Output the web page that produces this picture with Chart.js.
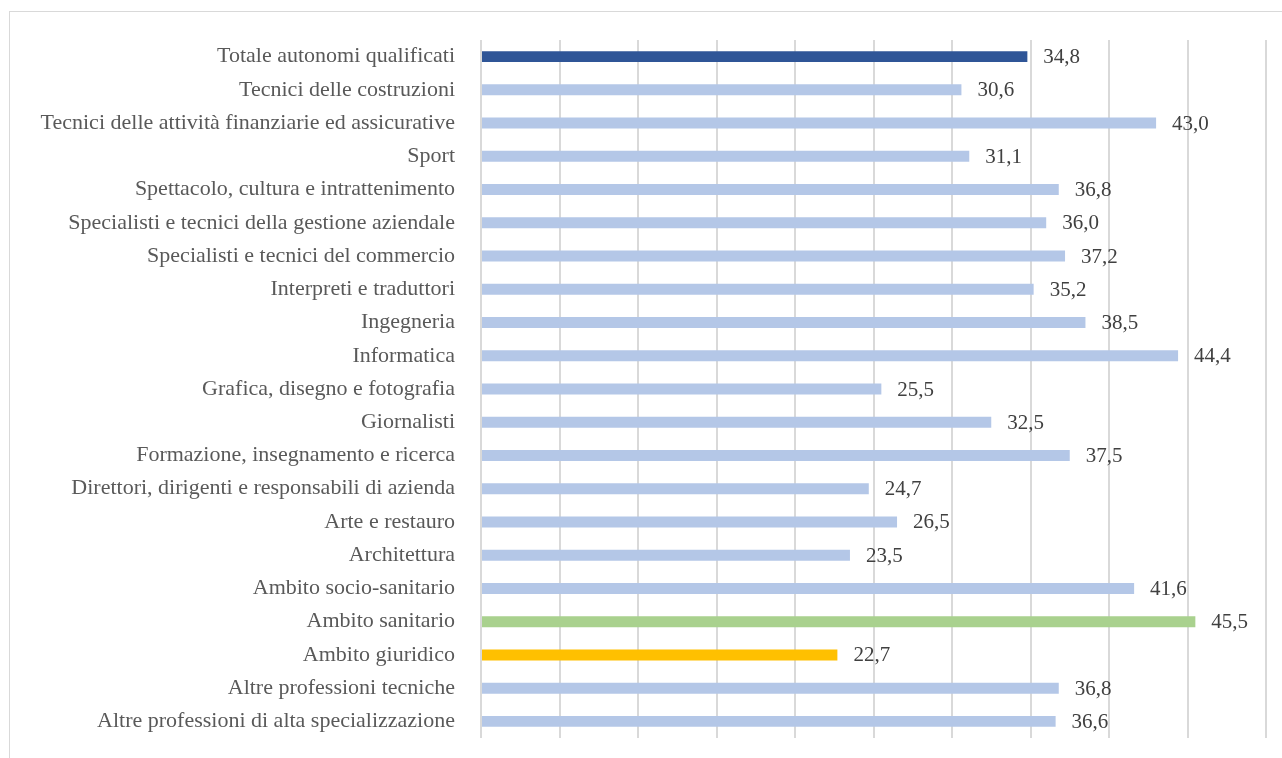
<!DOCTYPE html>
<html>
<head>
<meta charset="utf-8">
<script src="https://cdn.jsdelivr.net/npm/chart.js@4"></script>
<style>
html,body{margin:0;padding:0;background:#fff;overflow:hidden}
#frame{position:absolute;left:9px;top:11px;width:1300px;height:780px;border:1px solid #d9d9d9}
#wrap{position:absolute;left:0;top:0;width:1282px;height:758px}
</style>
</head>
<body>
<div id="frame"></div>
<div id="wrap"><canvas id="c"></canvas></div>
<script>

const categories = [
"Totale autonomi qualificati",
"Tecnici delle costruzioni",
"Tecnici delle attività finanziarie ed assicurative",
"Sport",
"Spettacolo, cultura e intrattenimento",
"Specialisti e tecnici della gestione aziendale",
"Specialisti e tecnici del commercio",
"Interpreti e traduttori",
"Ingegneria",
"Informatica",
"Grafica, disegno e fotografia",
"Giornalisti",
"Formazione, insegnamento e ricerca",
"Direttori, dirigenti e responsabili di azienda",
"Arte e restauro",
"Architettura",
"Ambito socio-sanitario",
"Ambito sanitario",
"Ambito giuridico",
"Altre professioni tecniche",
"Altre professioni di alta specializzazione"
]

const values = [34.8,30.6,43.0,31.1,36.8,36.0,37.2,35.2,38.5,44.4,25.5,32.5,37.5,24.7,26.5,23.5,41.6,45.5,22.7,36.8,36.6]

const highlight = {
"Totale autonomi qualificati":"#2f5597",
"Ambito sanitario":"#a9d18e",
"Ambito giuridico":"#ffc000"
}

const colors = categories.map(c=>highlight[c] || "#b4c7e7")

const valueLabels = {
id:"valueLabels",
afterDatasetsDraw(chart){
const ctx = chart.ctx
const meta = chart.getDatasetMeta(0)
ctx.save()
ctx.font = "21px 'Liberation Serif', serif"
ctx.fillStyle = "#404040"
ctx.textAlign = "left"
ctx.textBaseline = "middle"
meta.data.forEach((bar,i)=>{
ctx.fillText(values[i].toFixed(1).replace(".",","), bar.x+16, bar.y+1)
})
ctx.restore()
}
}

new Chart(document.getElementById("c"),{
type:"bar",
data:{
labels:categories,
datasets:[{
data:values,
backgroundColor:colors,
barPercentage:0.66,
categoryPercentage:0.5
}]
},
options:{
indexAxis:"y",
responsive:true,
maintainAspectRatio:false,
animation:false,
layout:{padding:{top:40,bottom:20,right:16,left:0}},
plugins:{legend:{display:false},tooltip:{enabled:false}},
scales:{
x:{
min:0,max:50,
ticks:{display:false,stepSize:5},
grid:{color:"#d9d9d9",lineWidth:2,drawTicks:false},
border:{display:false},
afterFit(scale){scale.height = 0}
},
y:{
ticks:{color:"#595959",font:{family:"'Liberation Serif', serif",size:22},padding:26},
grid:{display:false,drawTicks:false},
border:{display:false},
afterFit(scale){
scale.width = 481
scale.paddingTop = 0
scale.paddingBottom = 0
}
}
}
},
plugins:[valueLabels]
})

</script>
</body>
</html>
